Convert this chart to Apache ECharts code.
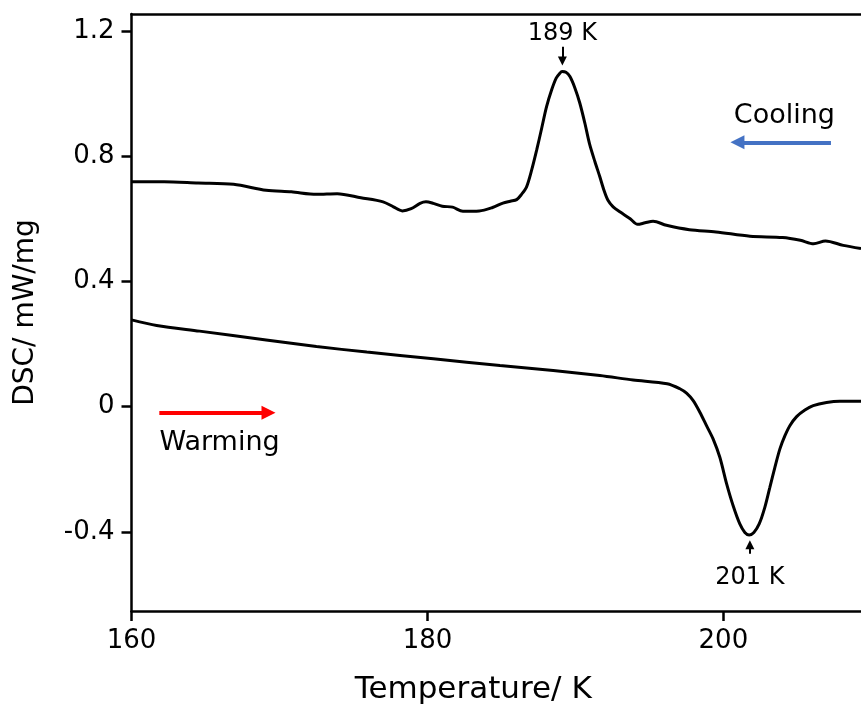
<!DOCTYPE html>
<html>
<head>
<meta charset="utf-8">
<script src="https://cdn.jsdelivr.net/npm/echarts@6/dist/echarts.min.js"></script>
<style>html,body{margin:0;padding:0;background:#fff;}#c{width:861px;height:711px;}</style>
</head>
<body>
<div id="c"></div>
<script>
// Cooling curve (upper)
var coolT = [160.0, 162.2, 164.5, 166.9, 169.1, 170.8, 172.5, 173.9, 175.5, 177.0, 177.7, 178.3, 178.9, 179.5, 179.9, 180.4, 181.0, 181.7, 182.4, 183.5, 184.4, 185.1, 185.6, 186.03, 186.36, 186.70, 187.04, 187.38, 187.72, 188.05, 188.39, 188.7, 188.95, 189.1, 189.36, 189.63, 189.97, 190.3, 190.64, 190.95, 191.32, 191.65, 191.93, 192.2, 192.55, 193.0, 193.7, 194.2, 194.7, 195.25, 196.15, 197.7, 199.5, 201.8, 204.0, 205.2, 206.1, 206.9, 208.1, 209.3];
var coolV = [0.718, 0.718, 0.714, 0.710, 0.691, 0.686, 0.678, 0.680, 0.667, 0.654, 0.638, 0.625, 0.632, 0.649, 0.654, 0.649, 0.640, 0.637, 0.624, 0.625, 0.636, 0.650, 0.656, 0.661, 0.678, 0.702, 0.755, 0.819, 0.889, 0.958, 1.011, 1.049, 1.065, 1.070, 1.068, 1.054, 1.017, 0.969, 0.905, 0.840, 0.782, 0.734, 0.691, 0.659, 0.638, 0.622, 0.600, 0.582, 0.587, 0.592, 0.579, 0.565, 0.558, 0.544, 0.540, 0.531, 0.520, 0.529, 0.515, 0.505];
// Warming curve (lower)
var warmT = [160.0, 161.7, 164.6, 169.1, 172.5, 175.9, 180.4, 184.9, 188.5, 191.65, 193.9, 196.2, 197.06, 197.51, 197.96, 198.41, 198.86, 199.31, 199.76, 200.22, 200.66, 201.11, 201.45, 201.74, 202.06, 202.42, 202.80, 203.14, 203.48, 203.82, 204.16, 204.49, 204.95, 205.51, 206.07, 206.97, 207.87, 209.3];
var warmV = [0.277, 0.259, 0.241, 0.213, 0.192, 0.174, 0.153, 0.131, 0.115, 0.099, 0.085, 0.073, 0.057, 0.043, 0.019, -0.018, -0.061, -0.104, -0.162, -0.247, -0.317, -0.375, -0.402, -0.410, -0.402, -0.375, -0.322, -0.258, -0.194, -0.135, -0.093, -0.061, -0.032, -0.011, 0.003, 0.013, 0.017, 0.017];
// Axis ticks
var xTicks = [160, 180, 200];
var yTicks = [-0.4, 0, 0.4, 0.8, 1.2];
// Annotations
var peakCoolLabel = '189 K', peakCoolT = 189.12;
var peakWarmLabel = '201 K', peakWarmT = 201.79;

function pairs(xs, ys) { return xs.map(function (x, i) { return [x, ys[i]]; }); }

var FONT = 'DejaVu Sans';
var chart = echarts.init(document.getElementById('c'), null, {renderer: 'canvas'});
var axisLineStyle = {color: '#000', width: 2.5};
chart.setOption({
  animation: false,
  backgroundColor: '#fff',
  grid: {left: 131.5, top: 14, right: 0, bottom: 100, containLabel: false},
  xAxis: [{
    type: 'value', min: 160, max: 209.3, position: 'bottom',
    axisLine: {show: true, onZero: false, lineStyle: axisLineStyle},
    axisTick: {show: true, length: 10, lineStyle: axisLineStyle, customValues: xTicks},
    axisLabel: {show: true, margin: 17, color: '#000', fontSize: 26, fontFamily: FONT, customValues: xTicks},
    splitLine: {show: false},
    name: 'Temperature/ K', nameLocation: 'middle', nameGap: 63,
    nameTextStyle: {color: '#000', fontSize: 31, fontFamily: FONT, padding: [0, 46, 0, 0]}
  }, {
    type: 'value', min: 160, max: 209.3, position: 'top',
    axisLine: {show: true, onZero: false, lineStyle: axisLineStyle},
    axisTick: {show: false}, axisLabel: {show: false}, splitLine: {show: false}
  }],
  yAxis: {
    type: 'value', min: -0.653, max: 1.254,
    axisLine: {show: true, onZero: false, lineStyle: axisLineStyle},
    axisTick: {show: true, length: 10, lineStyle: axisLineStyle, customValues: yTicks},
    axisLabel: {show: true, margin: 17, color: '#000', fontSize: 26, fontFamily: FONT, customValues: yTicks,
      formatter: function (v) { return String(Math.round(v * 10) / 10); }},
    splitLine: {show: false},
    name: 'DSC/ mW/mg', nameLocation: 'middle', nameGap: 92, nameRotate: 90,
    nameTextStyle: {color: '#000', fontSize: 28, fontFamily: FONT}
  },
  series: [{
    type: 'line', name: 'cooling', data: pairs(coolT, coolV), showSymbol: false, smooth: 0.3,
    lineStyle: {color: '#000', width: 3}, silent: true,
    markLine: {
      silent: true, symbol: ['none', 'triangle'], symbolSize: [9, 9],
      label: {show: false}, emphasis: {disabled: true},
      lineStyle: {type: 'solid', color: '#000', width: 2},
      data: [
        [{coord: [peakCoolT, 1.149]}, {coord: [peakCoolT, 1.104]}],
        [{coord: [peakWarmT, -0.470]}, {coord: [peakWarmT, -0.4416]}]
      ]
    },
    markPoint: {
      silent: true, symbol: 'circle', symbolSize: 1, itemStyle: {color: 'rgba(0,0,0,0)'},
      label: {show: true, position: 'inside', color: '#000', fontSize: 24, fontFamily: FONT},
      data: [
        {coord: [peakCoolT, 1.19], label: {formatter: peakCoolLabel}},
        {coord: [peakWarmT, -0.547], label: {formatter: peakWarmLabel}},
        {coord: [204.12, 0.928], label: {formatter: 'Cooling', fontSize: 27}},
        {coord: [165.95, -0.115], label: {formatter: 'Warming', fontSize: 27}}
      ]
    }
  }, {
    type: 'line', name: 'warming', data: pairs(warmT, warmV), showSymbol: false, smooth: 0.3,
    lineStyle: {color: '#000', width: 3}, silent: true,
    markLine: {
      silent: true, symbol: ['none', 'triangle'], symbolSize: [14, 14],
      label: {show: false}, emphasis: {disabled: true},
      lineStyle: {type: 'solid', width: 4},
      data: [
        [{coord: [207.27, 0.844], lineStyle: {color: '#4472C4'}}, {coord: [200.95, 0.844], itemStyle: {color: '#4472C4'}}],
        [{coord: [161.88, -0.020], lineStyle: {color: '#FF0000'}}, {coord: [169.26, -0.020], itemStyle: {color: '#FF0000'}}]
      ]
    }
  }]
});
</script>
</body>
</html>
